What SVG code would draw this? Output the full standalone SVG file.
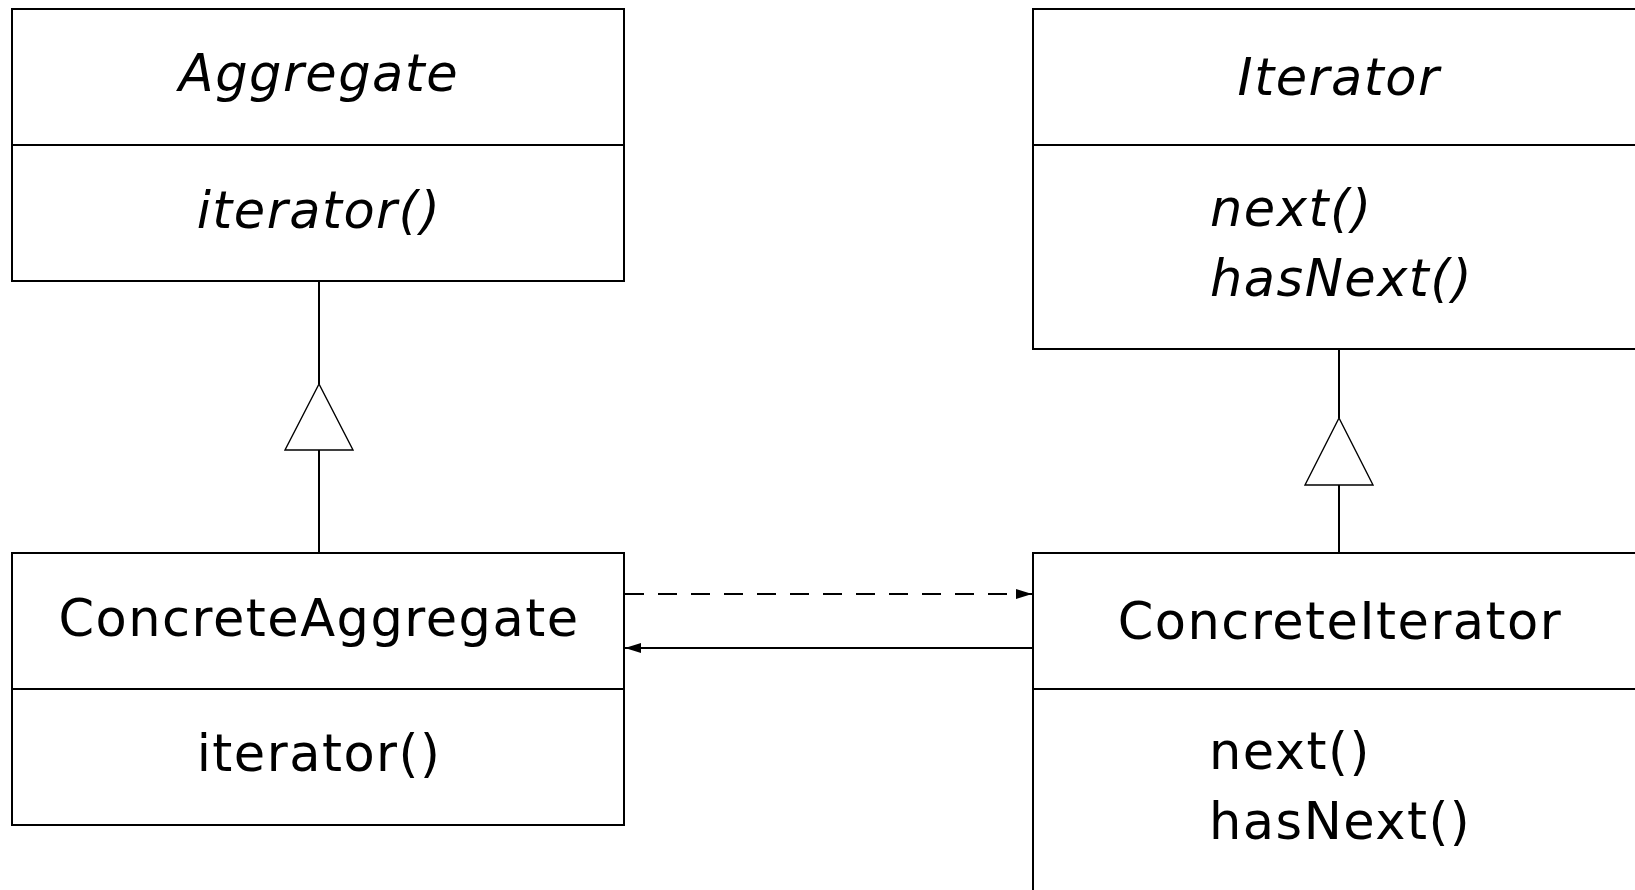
<svg xmlns="http://www.w3.org/2000/svg" width="1635" height="890" viewBox="0 0 1635 890">
<style>
.box{fill:#fff;stroke:#000;stroke-width:2}
.div{stroke:#000;stroke-width:2}
.t{font-family:"DejaVu Sans",sans-serif;font-size:51px;letter-spacing:1.5px;fill:#000}
.i{font-style:italic}
.c{text-anchor:middle}
.ln{stroke:#000;stroke-width:2;fill:none}
.tri{fill:#fff;stroke:#000;stroke-width:1.4}
</style>
<defs>
<marker id="arr" markerUnits="userSpaceOnUse" markerWidth="17" markerHeight="11" refX="16" refY="5.5" orient="auto">
<path d="M0,0.5 L16,5.5 L0,10.5 Z" fill="#000"/>
</marker>
</defs>
<rect width="1635" height="890" fill="#fff"/>
<g id="connectors">
<line class="ln" x1="319" y1="281" x2="319" y2="384"/>
<line class="ln" x1="319" y1="450" x2="319" y2="553"/>
<polygon class="tri" points="319,384 285,450 353,450"/>
<line class="ln" x1="1339" y1="349" x2="1339" y2="418"/>
<line class="ln" x1="1339" y1="485" x2="1339" y2="553"/>
<polygon class="tri" points="1339,418 1305,485 1373,485"/>
<line class="ln" x1="625" y1="594" x2="1032" y2="594" stroke-dasharray="19 14" marker-end="url(#arr)"/>
<line class="ln" x1="1032" y1="648" x2="625" y2="648" marker-end="url(#arr)"/>
</g>
<g id="Aggregate">
<rect class="box" x="12" y="9" width="612" height="272"/>
<line class="div" x1="12" y1="145" x2="624" y2="145"/>
<text class="t i c" x="319" y="91">Aggregate</text>
<text class="t i c" x="319" y="228">iterator()</text>
</g>
<g id="Iterator">
<rect class="box" x="1033" y="9" width="612" height="340"/>
<line class="div" x1="1033" y1="145" x2="1645" y2="145"/>
<text class="t i c" x="1339" y="95">Iterator</text>
<text class="t i" x="1210" y="226">next()</text>
<text class="t i" x="1210" y="296">hasNext()</text>
</g>
<g id="ConcreteAggregate">
<rect class="box" x="12" y="553" width="612" height="272"/>
<line class="div" x1="12" y1="689" x2="624" y2="689"/>
<text class="t c" x="319" y="636">ConcreteAggregate</text>
<text class="t c" x="319" y="771">iterator()</text>
</g>
<g id="ConcreteIterator">
<rect class="box" x="1033" y="553" width="612" height="360"/>
<line class="div" x1="1033" y1="689" x2="1645" y2="689"/>
<text class="t c" x="1340" y="639">ConcreteIterator</text>
<text class="t" x="1209" y="769">next()</text>
<text class="t" x="1209" y="839">hasNext()</text>
</g>
</svg>
